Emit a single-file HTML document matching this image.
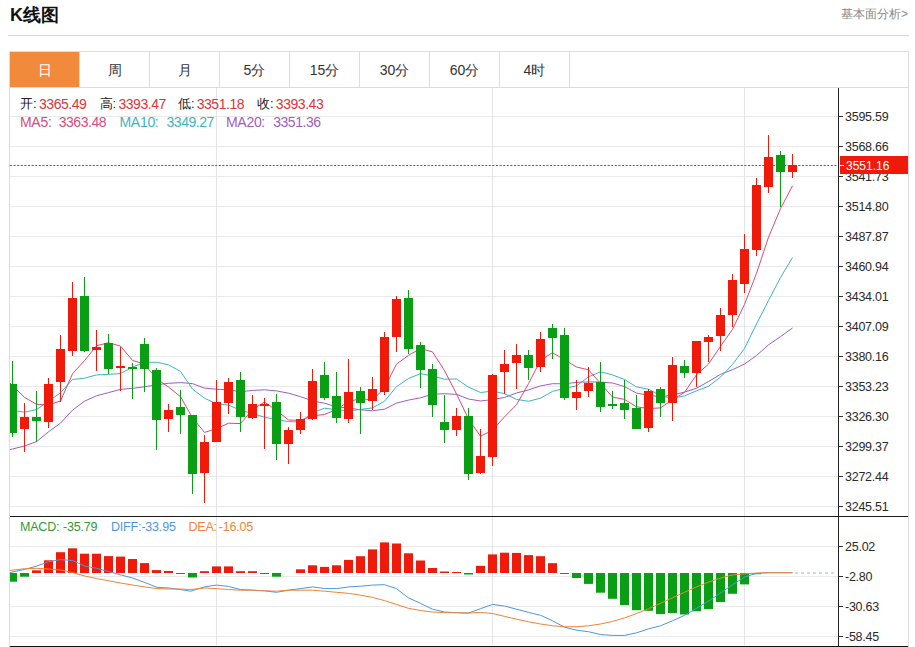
<!DOCTYPE html>
<html><head><meta charset="utf-8">
<style>
html,body{margin:0;padding:0;background:#fff;}
body{width:915px;height:647px;position:relative;overflow:hidden;font-family:"Liberation Sans",sans-serif;}
.t{position:absolute;white-space:nowrap;}
.title{left:10px;top:4px;font-size:18px;font-weight:bold;color:#111;line-height:22px;}
.more{right:7px;top:6px;font-size:12px;color:#888;line-height:16px;}
.hr{position:absolute;left:8px;top:35px;width:901px;height:1px;background:#d6d6d6;}
.box{position:absolute;left:9px;top:51px;width:898px;height:595px;border:1px solid #dcdcdc;border-bottom:none;}
.tabbar{position:absolute;left:10px;top:87px;width:898px;height:1px;background:#dcdcdc;}
.tab{position:absolute;top:52px;width:69px;height:34px;padding-top:1px;line-height:35px;text-align:center;font-size:14px;color:#333;border-right:1px solid #dcdcdc;}
.tab.on{background:#f28a3c;color:#fff;}
.al{position:absolute;left:845px;font-size:12.5px;letter-spacing:-0.25px;line-height:16px;color:#2a2a2a;}
.hd{position:absolute;font-size:13px;line-height:16px;white-space:nowrap;} .n{font-size:14px;letter-spacing:-0.45px;} .l2{font-size:14px;letter-spacing:-0.3px;} .l3{font-size:12.5px;letter-spacing:-0.2px;}
.k{color:#222} .v{color:#d9363a}
.pl{position:absolute;left:840px;top:156.4px;width:68px;height:17.3px;background:#f01a0a;} .plk{position:absolute;left:840px;top:165px;width:4px;height:1px;background:#fff;}
.plt{position:absolute;left:846px;top:158px;font-size:12px;line-height:17px;color:#fff;}
</style></head><body>
<div class="t title">K线图</div>
<div class="t more">基本面分析&gt;</div>
<div class="hr"></div>
<div class="box"></div>
<div class="tab on" style="left:10px">日</div><div class="tab" style="left:80px">周</div><div class="tab" style="left:150px">月</div><div class="tab" style="left:220px">5分</div><div class="tab" style="left:290px">15分</div><div class="tab" style="left:360px">30分</div><div class="tab" style="left:430px">60分</div><div class="tab" style="left:500px">4时</div>
<div class="tabbar"></div>
<svg width="915" height="647" viewBox="0 0 915 647" style="position:absolute;left:0;top:0"><defs><clipPath id="cp"><rect x="10" y="88" width="828" height="428"/></clipPath><clipPath id="cp2"><rect x="10" y="517" width="828" height="128"/></clipPath></defs><rect x="10" y="116" width="828" height="1" fill="#e9e9ea"/><rect x="10" y="146" width="828" height="1" fill="#e9e9ea"/><rect x="10" y="176" width="828" height="1" fill="#e9e9ea"/><rect x="10" y="206" width="828" height="1" fill="#e9e9ea"/><rect x="10" y="236" width="828" height="1" fill="#e9e9ea"/><rect x="10" y="266" width="828" height="1" fill="#e9e9ea"/><rect x="10" y="296" width="828" height="1" fill="#e9e9ea"/><rect x="10" y="326" width="828" height="1" fill="#e9e9ea"/><rect x="10" y="356" width="828" height="1" fill="#e9e9ea"/><rect x="10" y="386" width="828" height="1" fill="#e9e9ea"/><rect x="10" y="416" width="828" height="1" fill="#e9e9ea"/><rect x="10" y="446" width="828" height="1" fill="#e9e9ea"/><rect x="10" y="476" width="828" height="1" fill="#e9e9ea"/><rect x="10" y="506" width="828" height="1" fill="#e9e9ea"/><rect x="10" y="546" width="828" height="1" fill="#e9e9ea"/><rect x="10" y="576" width="828" height="1" fill="#e9e9ea"/><rect x="10" y="606" width="828" height="1" fill="#e9e9ea"/><rect x="10" y="636" width="828" height="1" fill="#e9e9ea"/><rect x="216" y="88" width="1" height="557" fill="#e1e5eb"/><rect x="492" y="88" width="1" height="557" fill="#e1e5eb"/><rect x="744" y="88" width="1" height="557" fill="#e1e5eb"/><line x1="10" y1="165.5" x2="838" y2="165.5" stroke="#dc2622" stroke-width="1" stroke-dasharray="2 1.6"/><polyline clip-path="url(#cp)" points="0.5,452.0 12.5,449.0 24.5,446.0 36.5,441.7 48.5,431.8 60.5,423.1 72.5,410.2 84.5,401.2 96.5,395.8 108.5,392.6 120.5,389.4 132.5,388.3 144.5,386.8 156.5,384.8 168.5,383.3 180.5,382.6 192.5,383.6 204.5,388.1 216.5,389.2 228.5,389.8 240.5,391.8 252.5,390.4 264.5,389.8 276.5,390.9 288.5,393.2 300.5,396.7 312.5,400.9 324.5,403.2 336.5,406.8 348.5,408.0 360.5,409.8 372.5,410.8 384.5,409.2 396.5,403.1 408.5,400.1 420.5,397.8 432.5,394.3 444.5,393.7 456.5,394.4 468.5,399.0 480.5,401.0 492.5,399.5 504.5,397.5 516.5,393.0 528.5,389.9 540.5,385.9 552.5,383.7 564.5,383.8 576.5,382.4 588.5,381.9 600.5,382.1 612.5,383.0 624.5,386.6 636.5,393.1 648.5,395.2 660.5,396.9 672.5,394.9 684.5,392.1 696.5,388.3 708.5,381.5 720.5,374.4 732.5,369.7 744.5,364.0 756.5,355.5 768.5,344.9 780.5,336.6 792.5,328.0" fill="none" stroke="#9e5ec0" stroke-width="1" stroke-linejoin="round"/><polyline clip-path="url(#cp)" points="0.5,408.6 12.5,410.4 24.5,412.2 36.5,409.6 48.5,401.2 60.5,392.8 72.5,379.5 84.5,378.2 96.5,374.9 108.5,374.4 120.5,373.5 132.5,367.1 144.5,362.3 156.5,362.3 168.5,364.8 180.5,371.4 192.5,389.1 204.5,398.2 216.5,403.8 228.5,405.1 240.5,410.2 252.5,413.6 264.5,417.2 276.5,419.6 288.5,421.6 300.5,422.0 312.5,412.6 324.5,408.2 336.5,409.8 348.5,410.9 360.5,409.4 372.5,407.9 384.5,401.2 396.5,386.7 408.5,378.5 420.5,373.6 432.5,376.0 444.5,379.2 456.5,379.0 468.5,387.1 480.5,392.5 492.5,391.1 504.5,393.7 516.5,399.4 528.5,401.3 540.5,398.2 552.5,391.4 564.5,388.3 576.5,385.9 588.5,376.8 600.5,371.8 612.5,374.9 624.5,379.5 636.5,386.9 648.5,389.2 660.5,395.6 672.5,398.4 684.5,395.9 696.5,390.8 708.5,386.3 720.5,377.1 732.5,364.5 744.5,348.4 756.5,324.0 768.5,300.6 780.5,277.5 792.5,257.5" fill="none" stroke="#3db4c0" stroke-width="1" stroke-linejoin="round"/><polyline clip-path="url(#cp)" points="0.5,373.6 12.5,385.5 24.5,397.4 36.5,404.3 48.5,405.0 60.5,400.9 72.5,373.8 84.5,360.6 96.5,345.8 108.5,342.7 120.5,346.1 132.5,360.4 144.5,364.1 156.5,378.8 168.5,387.0 180.5,396.7 192.5,417.8 204.5,432.4 216.5,428.8 228.5,423.2 240.5,423.6 252.5,409.5 264.5,402.0 276.5,410.4 288.5,420.0 300.5,420.4 312.5,415.8 324.5,414.5 336.5,409.3 348.5,401.7 360.5,398.5 372.5,400.1 384.5,388.0 396.5,364.1 408.5,355.3 420.5,348.7 432.5,351.9 444.5,370.5 456.5,394.0 468.5,418.9 480.5,436.3 492.5,430.2 504.5,416.9 516.5,404.7 528.5,383.7 540.5,360.2 552.5,352.7 564.5,359.7 576.5,367.0 588.5,369.8 600.5,383.4 612.5,397.1 624.5,399.4 636.5,406.8 648.5,408.6 660.5,407.9 672.5,399.7 684.5,392.4 696.5,374.8 708.5,364.0 720.5,346.3 732.5,329.3 744.5,304.4 756.5,273.3 768.5,237.2 780.5,208.7 792.5,185.8" fill="none" stroke="#d44c7c" stroke-width="1" stroke-linejoin="round"/><g clip-path="url(#cp)"><rect x="12" y="361" width="1" height="76" fill="#0a9e14"/><rect x="8" y="384" width="9" height="49" fill="#0a9e14"/><rect x="24" y="403" width="1" height="49" fill="#f01a0a"/><rect x="20" y="417" width="9" height="12" fill="#f01a0a"/><rect x="36" y="391" width="1" height="51" fill="#0a9e14"/><rect x="32" y="417" width="9" height="4" fill="#0a9e14"/><rect x="48" y="378" width="1" height="50" fill="#f01a0a"/><rect x="44" y="384" width="9" height="38" fill="#f01a0a"/><rect x="60" y="335" width="1" height="67" fill="#f01a0a"/><rect x="56" y="349" width="9" height="33" fill="#f01a0a"/><rect x="72" y="282" width="1" height="74" fill="#f01a0a"/><rect x="68" y="298" width="9" height="53" fill="#f01a0a"/><rect x="84" y="277" width="1" height="75" fill="#0a9e14"/><rect x="80" y="296" width="9" height="55" fill="#0a9e14"/><rect x="96" y="330" width="1" height="41" fill="#f01a0a"/><rect x="92" y="347" width="9" height="3" fill="#f01a0a"/><rect x="108" y="334" width="1" height="40" fill="#0a9e14"/><rect x="104" y="343" width="9" height="26" fill="#0a9e14"/><rect x="120" y="347" width="1" height="44" fill="#f01a0a"/><rect x="116" y="366" width="9" height="2" fill="#f01a0a"/><rect x="132" y="363" width="1" height="36" fill="#0a9e14"/><rect x="128" y="367" width="9" height="2" fill="#0a9e14"/><rect x="144" y="338" width="1" height="54" fill="#0a9e14"/><rect x="140" y="344" width="9" height="25" fill="#0a9e14"/><rect x="156" y="368" width="1" height="82" fill="#0a9e14"/><rect x="152" y="370" width="9" height="50" fill="#0a9e14"/><rect x="168" y="404" width="1" height="28" fill="#f01a0a"/><rect x="164" y="410" width="9" height="9" fill="#f01a0a"/><rect x="180" y="390" width="1" height="44" fill="#0a9e14"/><rect x="176" y="407" width="9" height="8" fill="#0a9e14"/><rect x="192" y="415" width="1" height="79" fill="#0a9e14"/><rect x="188" y="415" width="9" height="59" fill="#0a9e14"/><rect x="204" y="435" width="1" height="68" fill="#f01a0a"/><rect x="200" y="442" width="9" height="31" fill="#f01a0a"/><rect x="216" y="380" width="1" height="62" fill="#f01a0a"/><rect x="212" y="402" width="9" height="40" fill="#f01a0a"/><rect x="228" y="378" width="1" height="36" fill="#f01a0a"/><rect x="224" y="382" width="9" height="21" fill="#f01a0a"/><rect x="240" y="372" width="1" height="60" fill="#0a9e14"/><rect x="236" y="380" width="9" height="37" fill="#0a9e14"/><rect x="252" y="395" width="1" height="24" fill="#f01a0a"/><rect x="248" y="404" width="9" height="14" fill="#f01a0a"/><rect x="264" y="398" width="1" height="51" fill="#f01a0a"/><rect x="260" y="404" width="9" height="2" fill="#f01a0a"/><rect x="276" y="394" width="1" height="66" fill="#0a9e14"/><rect x="272" y="402" width="9" height="42" fill="#0a9e14"/><rect x="288" y="427" width="1" height="37" fill="#f01a0a"/><rect x="284" y="430" width="9" height="14" fill="#f01a0a"/><rect x="300" y="412" width="1" height="22" fill="#f01a0a"/><rect x="296" y="419" width="9" height="11" fill="#f01a0a"/><rect x="312" y="369" width="1" height="51" fill="#f01a0a"/><rect x="308" y="381" width="9" height="38" fill="#f01a0a"/><rect x="324" y="362" width="1" height="38" fill="#0a9e14"/><rect x="320" y="375" width="9" height="23" fill="#0a9e14"/><rect x="336" y="372" width="1" height="51" fill="#0a9e14"/><rect x="332" y="396" width="9" height="22" fill="#0a9e14"/><rect x="348" y="359" width="1" height="64" fill="#f01a0a"/><rect x="344" y="392" width="9" height="27" fill="#f01a0a"/><rect x="360" y="387" width="1" height="47" fill="#0a9e14"/><rect x="356" y="391" width="9" height="12" fill="#0a9e14"/><rect x="372" y="377" width="1" height="33" fill="#f01a0a"/><rect x="368" y="389" width="9" height="12" fill="#f01a0a"/><rect x="384" y="332" width="1" height="63" fill="#f01a0a"/><rect x="380" y="337" width="9" height="55" fill="#f01a0a"/><rect x="396" y="296" width="1" height="56" fill="#f01a0a"/><rect x="392" y="299" width="9" height="38" fill="#f01a0a"/><rect x="408" y="290" width="1" height="64" fill="#0a9e14"/><rect x="404" y="298" width="9" height="51" fill="#0a9e14"/><rect x="420" y="342" width="1" height="46" fill="#0a9e14"/><rect x="416" y="345" width="9" height="25" fill="#0a9e14"/><rect x="432" y="364" width="1" height="53" fill="#0a9e14"/><rect x="428" y="369" width="9" height="36" fill="#0a9e14"/><rect x="444" y="395" width="1" height="48" fill="#0a9e14"/><rect x="440" y="422" width="9" height="8" fill="#0a9e14"/><rect x="456" y="408" width="1" height="28" fill="#f01a0a"/><rect x="452" y="416" width="9" height="14" fill="#f01a0a"/><rect x="468" y="408" width="1" height="72" fill="#0a9e14"/><rect x="464" y="416" width="9" height="58" fill="#0a9e14"/><rect x="480" y="429" width="1" height="45" fill="#f01a0a"/><rect x="476" y="456" width="9" height="17" fill="#f01a0a"/><rect x="492" y="374" width="1" height="92" fill="#f01a0a"/><rect x="488" y="375" width="9" height="82" fill="#f01a0a"/><rect x="504" y="350" width="1" height="44" fill="#f01a0a"/><rect x="500" y="364" width="9" height="8" fill="#f01a0a"/><rect x="516" y="344" width="1" height="45" fill="#f01a0a"/><rect x="512" y="355" width="9" height="8" fill="#f01a0a"/><rect x="528" y="350" width="1" height="30" fill="#0a9e14"/><rect x="524" y="355" width="9" height="13" fill="#0a9e14"/><rect x="540" y="332" width="1" height="40" fill="#f01a0a"/><rect x="536" y="339" width="9" height="28" fill="#f01a0a"/><rect x="552" y="324" width="1" height="35" fill="#0a9e14"/><rect x="548" y="328" width="9" height="10" fill="#0a9e14"/><rect x="564" y="328" width="1" height="72" fill="#0a9e14"/><rect x="560" y="335" width="9" height="63" fill="#0a9e14"/><rect x="576" y="380" width="1" height="30" fill="#f01a0a"/><rect x="572" y="392" width="9" height="6" fill="#f01a0a"/><rect x="588" y="367" width="1" height="30" fill="#f01a0a"/><rect x="584" y="383" width="9" height="8" fill="#f01a0a"/><rect x="600" y="362" width="1" height="50" fill="#0a9e14"/><rect x="596" y="382" width="9" height="25" fill="#0a9e14"/><rect x="612" y="391" width="1" height="18" fill="#0a9e14"/><rect x="608" y="404" width="9" height="2" fill="#0a9e14"/><rect x="624" y="380" width="1" height="39" fill="#0a9e14"/><rect x="620" y="403" width="9" height="7" fill="#0a9e14"/><rect x="636" y="395" width="1" height="34" fill="#0a9e14"/><rect x="632" y="408" width="9" height="21" fill="#0a9e14"/><rect x="648" y="389" width="1" height="43" fill="#f01a0a"/><rect x="644" y="391" width="9" height="37" fill="#f01a0a"/><rect x="660" y="387" width="1" height="30" fill="#0a9e14"/><rect x="656" y="389" width="9" height="14" fill="#0a9e14"/><rect x="672" y="357" width="1" height="64" fill="#f01a0a"/><rect x="668" y="365" width="9" height="38" fill="#f01a0a"/><rect x="684" y="360" width="1" height="18" fill="#0a9e14"/><rect x="680" y="366" width="9" height="7" fill="#0a9e14"/><rect x="696" y="341" width="1" height="46" fill="#f01a0a"/><rect x="692" y="341" width="9" height="32" fill="#f01a0a"/><rect x="708" y="335" width="1" height="27" fill="#f01a0a"/><rect x="704" y="337" width="9" height="5" fill="#f01a0a"/><rect x="720" y="308" width="1" height="43" fill="#f01a0a"/><rect x="716" y="315" width="9" height="21" fill="#f01a0a"/><rect x="732" y="274" width="1" height="53" fill="#f01a0a"/><rect x="728" y="280" width="9" height="35" fill="#f01a0a"/><rect x="744" y="234" width="1" height="59" fill="#f01a0a"/><rect x="740" y="249" width="9" height="35" fill="#f01a0a"/><rect x="756" y="178" width="1" height="78" fill="#f01a0a"/><rect x="752" y="185" width="9" height="65" fill="#f01a0a"/><rect x="768" y="135" width="1" height="58" fill="#f01a0a"/><rect x="764" y="157" width="9" height="30" fill="#f01a0a"/><rect x="780" y="151" width="1" height="56" fill="#0a9e14"/><rect x="776" y="155" width="9" height="17" fill="#0a9e14"/><rect x="792" y="154" width="1" height="24" fill="#f01a0a"/><rect x="788" y="165" width="9" height="7" fill="#f01a0a"/></g><g clip-path="url(#cp2)"><rect x="8" y="573.0" width="9" height="8.7" fill="#0a9e14"/><rect x="20" y="573.0" width="9" height="3.7" fill="#0a9e14"/><rect x="32" y="570.3" width="9" height="2.7" fill="#f01a0a"/><rect x="44" y="560.3" width="9" height="12.7" fill="#f01a0a"/><rect x="56" y="552.2" width="9" height="20.8" fill="#f01a0a"/><rect x="68" y="548.3" width="9" height="24.7" fill="#f01a0a"/><rect x="80" y="553.7" width="9" height="19.3" fill="#f01a0a"/><rect x="92" y="553.7" width="9" height="19.3" fill="#f01a0a"/><rect x="104" y="556.1" width="9" height="16.9" fill="#f01a0a"/><rect x="116" y="556.6" width="9" height="16.4" fill="#f01a0a"/><rect x="128" y="559.0" width="9" height="14.0" fill="#f01a0a"/><rect x="140" y="563.1" width="9" height="9.9" fill="#f01a0a"/><rect x="152" y="570.1" width="9" height="2.9" fill="#f01a0a"/><rect x="164" y="571.0" width="9" height="2.0" fill="#f01a0a"/><rect x="176" y="573.0" width="9" height="1.0" fill="#0a9e14"/><rect x="188" y="573.0" width="9" height="4.5" fill="#0a9e14"/><rect x="200" y="571.2" width="9" height="1.8" fill="#f01a0a"/><rect x="212" y="566.4" width="9" height="6.6" fill="#f01a0a"/><rect x="224" y="566.4" width="9" height="6.6" fill="#f01a0a"/><rect x="236" y="571.2" width="9" height="1.8" fill="#f01a0a"/><rect x="248" y="571.2" width="9" height="1.8" fill="#f01a0a"/><rect x="260" y="573.0" width="9" height="1.0" fill="#0a9e14"/><rect x="272" y="573.0" width="9" height="3.7" fill="#0a9e14"/><rect x="296" y="569.3" width="9" height="3.7" fill="#f01a0a"/><rect x="308" y="565.3" width="9" height="7.7" fill="#f01a0a"/><rect x="320" y="566.9" width="9" height="6.1" fill="#f01a0a"/><rect x="332" y="565.3" width="9" height="7.7" fill="#f01a0a"/><rect x="344" y="559.9" width="9" height="13.1" fill="#f01a0a"/><rect x="356" y="556.2" width="9" height="16.8" fill="#f01a0a"/><rect x="368" y="549.4" width="9" height="23.6" fill="#f01a0a"/><rect x="380" y="542.4" width="9" height="30.6" fill="#f01a0a"/><rect x="392" y="543.5" width="9" height="29.5" fill="#f01a0a"/><rect x="404" y="553.3" width="9" height="19.7" fill="#f01a0a"/><rect x="416" y="560.5" width="9" height="12.5" fill="#f01a0a"/><rect x="428" y="568.0" width="9" height="5.0" fill="#f01a0a"/><rect x="440" y="571.5" width="9" height="1.5" fill="#f01a0a"/><rect x="452" y="572.0" width="9" height="1.0" fill="#f01a0a"/><rect x="464" y="573.0" width="9" height="1.5" fill="#0a9e14"/><rect x="476" y="565.8" width="9" height="7.2" fill="#f01a0a"/><rect x="488" y="554.4" width="9" height="18.6" fill="#f01a0a"/><rect x="500" y="552.7" width="9" height="20.3" fill="#f01a0a"/><rect x="512" y="552.9" width="9" height="20.1" fill="#f01a0a"/><rect x="524" y="555.1" width="9" height="17.9" fill="#f01a0a"/><rect x="536" y="556.2" width="9" height="16.8" fill="#f01a0a"/><rect x="548" y="563.2" width="9" height="9.8" fill="#f01a0a"/><rect x="560" y="573.0" width="9" height="1.0" fill="#0a9e14"/><rect x="572" y="573.0" width="9" height="5.0" fill="#0a9e14"/><rect x="584" y="573.0" width="9" height="10.9" fill="#0a9e14"/><rect x="596" y="573.0" width="9" height="19.7" fill="#0a9e14"/><rect x="608" y="573.0" width="9" height="25.8" fill="#0a9e14"/><rect x="620" y="573.0" width="9" height="32.1" fill="#0a9e14"/><rect x="632" y="573.0" width="9" height="37.2" fill="#0a9e14"/><rect x="644" y="573.0" width="9" height="37.8" fill="#0a9e14"/><rect x="656" y="573.0" width="9" height="41.1" fill="#0a9e14"/><rect x="668" y="573.0" width="9" height="40.0" fill="#0a9e14"/><rect x="680" y="573.0" width="9" height="41.5" fill="#0a9e14"/><rect x="692" y="573.0" width="9" height="38.3" fill="#0a9e14"/><rect x="704" y="573.0" width="9" height="36.1" fill="#0a9e14"/><rect x="716" y="573.0" width="9" height="29.1" fill="#0a9e14"/><rect x="728" y="573.0" width="9" height="20.8" fill="#0a9e14"/><rect x="740" y="573.0" width="9" height="11.4" fill="#0a9e14"/><rect x="752" y="573.0" width="9" height="1.2" fill="#0a9e14"/></g><polyline clip-path="url(#cp2)" points="9.4,572.7 24.7,569.4 36.7,566.1 48.7,561.7 60.7,559.6 72.8,560.6 84.8,566.1 96.8,568.3 108.8,571.6 120.8,574.9 132.9,578.1 144.9,582.5 156.9,587.3 168.9,588.0 179.9,589.5 190.8,591.2 204.4,586.9 216.4,585.1 228.4,586.4 240.5,589.5 252.5,590.2 264.5,590.8 276.5,592.3 288.5,590.2 300.6,588.6 312.6,586.9 324.6,588.6 336.6,588.6 348.7,586.9 360.5,586.2 372.5,585.1 384.5,584.7 396.4,588.6 408.4,597.8 420.4,603.3 432.4,609.2 444.5,612.0 456.5,612.7 468.5,613.1 480.5,608.7 492.5,604.4 504.6,606.1 516.6,609.2 528.6,612.4 540.6,615.3 552.6,620.8 564.7,627.3 576.7,630.2 588.5,631.7 600.6,634.5 612.6,635.4 624.6,635.4 636.6,632.8 648.7,628.8 660.5,625.8 672.5,620.8 684.5,615.3 696.5,608.3 708.5,601.1 720.6,593.0 732.6,584.7 744.6,577.0 756.6,573.3 768.7,572.7 792.5,572.7" fill="none" stroke="#4d98dd" stroke-width="1" stroke-linejoin="round"/><polyline clip-path="url(#cp2)" points="9.4,570.5 24.7,568.7 36.7,568.3 48.7,569.0 60.7,570.0 72.8,572.7 84.8,576.0 96.8,578.6 108.8,580.8 120.8,583.0 132.9,585.1 144.9,586.9 156.9,588.6 168.9,589.0 179.9,589.0 190.8,589.5 204.4,588.0 216.4,588.6 228.4,589.5 240.5,590.2 252.5,590.2 264.5,590.8 276.5,591.2 288.5,590.2 300.6,590.2 312.6,590.2 324.6,591.2 336.6,592.3 348.7,593.4 360.5,595.2 372.5,597.4 384.5,600.6 396.4,604.4 408.4,608.3 420.4,610.5 432.4,612.0 444.5,612.7 456.5,612.7 468.5,613.1 480.5,612.4 492.5,613.5 504.6,616.4 516.6,619.2 528.6,621.8 540.6,624.0 552.6,625.8 564.7,626.7 576.7,626.7 588.5,625.8 600.6,624.0 612.6,621.4 624.6,617.9 636.6,613.5 648.7,608.7 660.5,603.3 672.5,597.8 684.5,592.3 696.5,586.9 708.5,582.1 720.6,578.1 732.6,574.9 744.6,573.8 756.6,573.1 768.7,572.7 792.5,572.7" fill="none" stroke="#ef8436" stroke-width="1" stroke-linejoin="round"/><line x1="795" y1="573" x2="837" y2="573" stroke="#b4d6de" stroke-width="1.5" stroke-dasharray="3 3"/><rect x="838" y="88" width="1" height="558" fill="#222"/><rect x="10" y="516" width="898" height="1" fill="#1a1a1a"/><rect x="10" y="646" width="898" height="1" fill="#111"/><rect x="839" y="116" width="4" height="1" fill="#333"/><rect x="839" y="146" width="4" height="1" fill="#333"/><rect x="839" y="176" width="4" height="1" fill="#333"/><rect x="839" y="206" width="4" height="1" fill="#333"/><rect x="839" y="236" width="4" height="1" fill="#333"/><rect x="839" y="266" width="4" height="1" fill="#333"/><rect x="839" y="296" width="4" height="1" fill="#333"/><rect x="839" y="326" width="4" height="1" fill="#333"/><rect x="839" y="356" width="4" height="1" fill="#333"/><rect x="839" y="386" width="4" height="1" fill="#333"/><rect x="839" y="416" width="4" height="1" fill="#333"/><rect x="839" y="446" width="4" height="1" fill="#333"/><rect x="839" y="476" width="4" height="1" fill="#333"/><rect x="839" y="506" width="4" height="1" fill="#333"/><rect x="839" y="546" width="4" height="1" fill="#333"/><rect x="839" y="576" width="4" height="1" fill="#333"/><rect x="839" y="606" width="4" height="1" fill="#333"/><rect x="839" y="636" width="4" height="1" fill="#333"/></svg>
<div class="al" style="top:108.5px">3595.59</div><div class="al" style="top:138.5px">3568.66</div><div class="al" style="top:168.5px">3541.73</div><div class="al" style="top:198.5px">3514.80</div><div class="al" style="top:228.5px">3487.87</div><div class="al" style="top:258.5px">3460.94</div><div class="al" style="top:288.5px">3434.01</div><div class="al" style="top:318.5px">3407.09</div><div class="al" style="top:348.5px">3380.16</div><div class="al" style="top:378.5px">3353.23</div><div class="al" style="top:408.5px">3326.30</div><div class="al" style="top:438.5px">3299.37</div><div class="al" style="top:468.5px">3272.44</div><div class="al" style="top:498.5px">3245.51</div><div class="al" style="top:538.5px">25.02</div><div class="al" style="top:568.5px">-2.80</div><div class="al" style="top:598.5px">-30.63</div><div class="al" style="top:628.5px">-58.45</div>
<div class="pl"></div><div class="plk"></div><div class="plt">3551.16</div>
<div class="hd k" style="left:20px;top:96px">开:</div><div class="hd v n" style="left:39px;top:96px">3365.49</div>
<div class="hd k" style="left:99.5px;top:96px">高:</div><div class="hd v n" style="left:118.4px;top:96px">3393.47</div>
<div class="hd k" style="left:178px;top:96px">低:</div><div class="hd v n" style="left:196.7px;top:96px">3351.18</div>
<div class="hd k" style="left:257px;top:96px">收:</div><div class="hd v n" style="left:275.8px;top:96px">3393.43</div>
<div class="hd l2" style="left:20px;top:114px;color:#d44c7c">MA5:</div><div class="hd n" style="left:58.7px;top:114px;color:#d44c7c">3363.48</div>
<div class="hd l2" style="left:119.5px;top:114px;color:#3db4c0">MA10:</div><div class="hd n" style="left:166.5px;top:114px;color:#3db4c0">3349.27</div>
<div class="hd l2" style="left:226px;top:114px;color:#9e5ec0">MA20:</div><div class="hd n" style="left:273.2px;top:114px;color:#9e5ec0">3351.36</div>
<div class="hd l3" style="left:20px;top:519px;color:#2f9a3c">MACD:</div><div class="hd n l3" style="left:63px;top:519px;color:#2f9a3c">-35.79</div>
<div class="hd l3" style="left:111px;top:519px;color:#4d98dd">DIFF:</div><div class="hd n l3" style="left:141.4px;top:519px;color:#4d98dd">-33.95</div>
<div class="hd l3" style="left:188.5px;top:519px;color:#ef8436">DEA:</div><div class="hd n l3" style="left:218.8px;top:519px;color:#ef8436">-16.05</div>
</body></html>
